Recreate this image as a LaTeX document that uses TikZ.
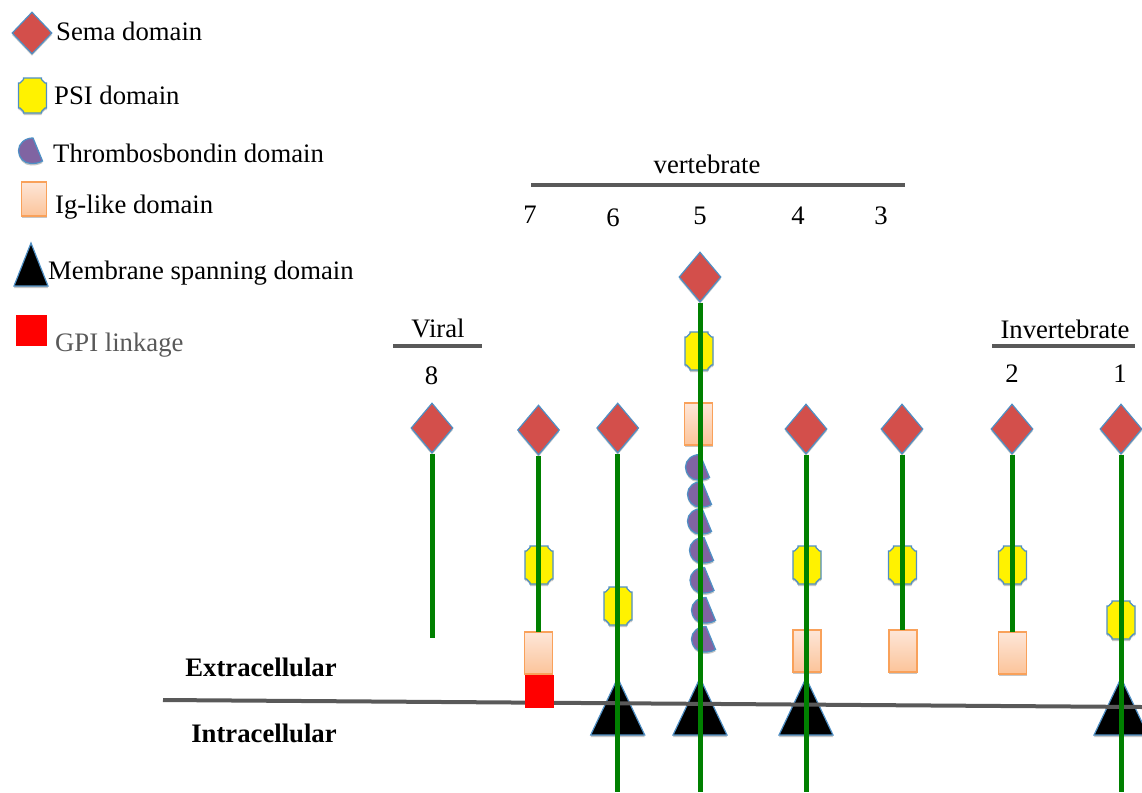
\documentclass[tikz,border=0pt]{standalone}
\usepackage{fontspec}
\setmainfont{Liberation Serif}
\usetikzlibrary{shapes.geometric,shadows}
\definecolor{semared}{HTML}{D34F4B}
\definecolor{edgeblue}{HTML}{4F8FC4}
\definecolor{thrombo}{HTML}{8064A2}
\definecolor{iglo}{HTML}{FCC49A}
\definecolor{ighi}{HTML}{FDE6D8}
\definecolor{igedge}{HTML}{F9A15A}
\definecolor{stemgreen}{HTML}{008000}
\definecolor{rulegray}{HTML}{595959}
\tikzset{
  softshadow/.style={drop shadow={shadow xshift=0pt,shadow yshift=-2pt,opacity=.22,fill=black}},
  sema/.style={diamond,draw=edgeblue,line width=1.2pt,fill=semared,minimum width=42pt,minimum height=50pt,inner sep=0pt,softshadow},
  semaleg/.style={sema,minimum width=40pt,minimum height=42pt},
  psi/.style={draw=edgeblue,line width=1.3pt,fill=yellow,softshadow},
  iglike/.style={rectangle,draw=igedge,line width=1.5pt,top color=ighi,bottom color=iglo,minimum width=28pt,minimum height=42pt,inner sep=0pt,softshadow},
  gpi/.style={rectangle,fill=red,minimum width=29pt,minimum height=33pt,inner sep=0pt},
  stem/.style={draw=stemgreen,line width=5pt},
  rulebar/.style={draw=rulegray,line width=4pt},
  chordshape/.style={draw=edgeblue,line width=1.3pt,fill=thrombo,softshadow},
  span/.style={draw=edgeblue,line width=1.2pt,fill=black,line join=miter,softshadow},
  lab/.style={font=\fontsize{26.7}{30}\selectfont,text=black,inner sep=0pt},
  labb/.style={font=\fontsize{26.7}{30}\selectfont\bfseries,text=black,inner sep=0pt},
  leg/.style={lab,anchor=base west},
}
\newcommand{\chordat}[2]{\path[chordshape] (#1+2,#2-12.5) -- (#1+11.5,#2+10.5) .. controls (#1+7,#2+13) and (#1+3,#2+13) .. (#1,#2+13) .. controls (#1-7,#2+13) and (#1-12.5,#2+7) .. (#1-12.5,#2) .. controls (#1-12.5,#2-7) and (#1-6,#2-12.5) .. (#1+2,#2-12.5) -- cycle;}
\newcommand{\spanat}[1]{\path[span] (#1,678) -- (#1+27,735) -- (#1-27,735) -- cycle;}
% centre x, centre y, half width, half height
\newcommand{\psiat}[4]{\path[psi] (#1-#3+5,#2-#4) -- (#1+#3-5,#2-#4) -- (#1+#3-5,#2-#4+1.5) -- (#1+#3-1.5,#2-#4+5) -- (#1+#3,#2-#4+5) -- (#1+#3,#2+#4-5) -- (#1+#3-1.5,#2+#4-5) -- (#1+#3-5,#2+#4-1.5) -- (#1+#3-5,#2+#4) -- (#1-#3+5,#2+#4) -- (#1-#3+5,#2+#4-1.5) -- (#1-#3+1.5,#2+#4-5) -- (#1-#3,#2+#4-5) -- (#1-#3,#2-#4+5) -- (#1-#3+1.5,#2-#4+5) -- (#1-#3+5,#2-#4+1.5) -- cycle;}
\begin{document}
\begin{tikzpicture}[x=1pt,y=-1pt]
\useasboundingbox (0,0) rectangle (1142,792);
% legend
\node[semaleg] (lsema) at (32,33) {};
\psiat{32.5}{95.5}{14}{17.5}
\chordat{31}{150.5}
\node[iglike,minimum width=25pt,minimum height=34pt] (lig) at (34,199) {};
\path[span] (31,243) -- (48,286) -- (14,286) -- cycle;
\node[gpi,minimum width=31pt,minimum height=31pt] (lgpi) at (31.5,330.5) {};
\node[leg] (t1) at (56,41) {Sema domain};
\node[leg] (t2) at (54,104) {PSI domain};
\node[leg] (t3) at (53,162) {Thrombosbondin domain};
\node[leg] (t4) at (55,213) {Ig-like domain};
\node[leg] (t5) at (48,279) {Membrane spanning domain};
\node[leg,text=rulegray] (t6) at (55,351) {GPI linkage};
% group labels
\node[lab,anchor=base] (vert) at (707,173) {vertebrate};
\node[lab,anchor=base] (n7) at (530,223) {7};
\node[lab,anchor=base] (n6) at (613,226) {6};
\node[lab,anchor=base] (n5) at (700,224) {5};
\node[lab,anchor=base] (n4) at (798,224) {4};
\node[lab,anchor=base] (n3) at (881,224) {3};
\node[lab,anchor=base] (viral) at (438,337) {Viral};
\node[lab,anchor=base] (n8) at (431.5,384) {8};
\node[lab,anchor=base] (inv) at (1065,338) {Invertebrate};
\node[lab,anchor=base] (n2) at (1012,382) {2};
\node[lab,anchor=base] (n1) at (1120,382) {1};
\node[labb,anchor=base] (ext) at (261,676) {Extracellular};
\node[labb,anchor=base] (int) at (264,742) {Intracellular};
% rules
\coordinate (va) at (531,185); \coordinate (vb) at (905,185);
\coordinate (ra) at (393,346); \coordinate (rb) at (482,346);
\coordinate (ia) at (992,346); \coordinate (ib) at (1135,346);
\draw[rulebar] (va) -- (vb);
\draw[rulebar] (ra) -- (rb);
\draw[rulebar] (ia) -- (ib);
% domains
\node[sema] (s8) at (432,428) {};
\node[sema] (s7) at (538.5,430) {};
\node[sema] (s6) at (617.7,428) {};
\node[sema] (s5) at (700,277) {};
\node[sema] (s4) at (806,429) {};
\node[sema] (s3) at (902,429) {};
\node[sema] (s2) at (1012,429) {};
\node[sema] (s1) at (1121,429) {};
\psiat{539}{565}{14}{19}
\psiat{618}{606}{14}{19}
\psiat{699}{351}{14}{19}
\psiat{807}{565}{14}{19}
\psiat{902.5}{565}{14}{19}
\psiat{1012.5}{565}{14}{19}
\psiat{1121}{620}{14}{19}
\node[iglike] (g7) at (538.5,653) {};
\node[iglike] (g5) at (698.5,424) {};
\node[iglike] (g4) at (807,651) {};
\node[iglike] (g3) at (903,651) {};
\node[iglike] (g2) at (1012.5,653) {};
\chordat{698}{467}
\chordat{700}{494}
\chordat{700}{521}
\chordat{702}{550}
\chordat{702.5}{580}
\chordat{704}{610}
\chordat{704}{639}
\spanat{617.7}
\spanat{700}
\spanat{806}
\spanat{1121}
% membrane
\coordinate (ma) at (163,700); \coordinate (mb) at (1142,707);
\draw[rulebar] (ma) -- (mb);
\node[gpi] (r7) at (539.5,691.5) {};
% stems
\coordinate (e8) at (432,638);
\coordinate (e7) at (538.5,632);
\coordinate (e6) at (617.7,792);
\coordinate (e5) at (700,792);
\coordinate (e4) at (806,792);
\coordinate (e3) at (902,630);
\coordinate (e2) at (1012,632);
\coordinate (e1) at (1121,792);
\draw[stem] (s8.south) -- (e8);
\draw[stem] (s7.south) -- (e7);
\draw[stem] (s6.south) -- (e6);
\draw[stem] (s5.south) -- (e5);
\draw[stem] (s4.south) -- (e4);
\draw[stem] (s3.south) -- (e3);
\draw[stem] (s2.south) -- (e2);
\draw[stem] (s1.south) -- (e1);
\end{tikzpicture}
\end{document}
